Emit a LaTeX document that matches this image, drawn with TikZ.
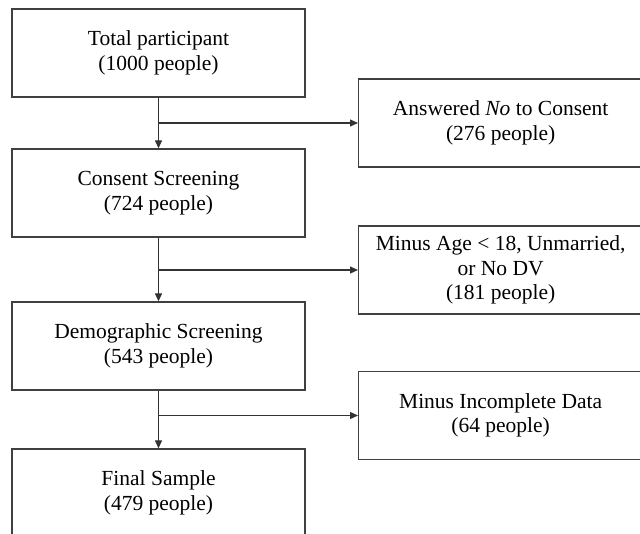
\documentclass[tikz,border=0pt]{standalone}
\usepackage{fontspec}
\setmainfont{Liberation Serif}
\usetikzlibrary{arrows.meta}
\begin{document}
\begin{tikzpicture}[x=1pt,y=-1pt,
  box/.style={draw=black!75, line width=1.3pt, minimum width=293pt, minimum height=88pt,
    align=center, inner sep=0pt, font=\fontsize{21.5}{24.5}\selectfont},
  rbox/.style={box, minimum width=284pt},
  arr/.style={draw=black!80, line width=1.2pt, -{Triangle[length=8pt,width=7pt]}}]
\useasboundingbox (0,0) rectangle (640,533);
\clip (0,0) rectangle (640,533);
\fill[white] (0,0) rectangle (640,533);
\node[box] (b1) at (158.5,53) {Total participant\\(1000 people)};
\node[box] (b2) at (158.5,193) {Consent Screening\\(724 people)};
\node[box] (b3) at (158.5,346) {Demographic Screening\\(543 people)};
\node[box] (b4) at (158.5,493) {Final Sample\\(479 people)};
\node[rbox, anchor=west] (r1) at (358,123) {Answered \textit{No} to Consent\\(276 people)};
\node[rbox, anchor=west] (r2) at (358,270) {Minus Age < 18, Unmarried,\\or No DV\\(181 people)};
\node[rbox, anchor=west] (r3) at (358,415.5) {Minus Incomplete Data\\(64 people)};
\draw[arr] (b1) -- (b2);
\draw[arr] (b2) -- (b3);
\draw[arr] (b3) -- (b4);
\coordinate (j1) at (b1.south |- r1.west);
\coordinate (j2) at (b2.south |- r2.west);
\coordinate (j3) at (b3.south |- r3.west);
\draw[arr] (j1) -- (r1.west);
\draw[arr] (j2) -- (r2.west);
\draw[arr] (j3) -- (r3.west);
\end{tikzpicture}
\end{document}
